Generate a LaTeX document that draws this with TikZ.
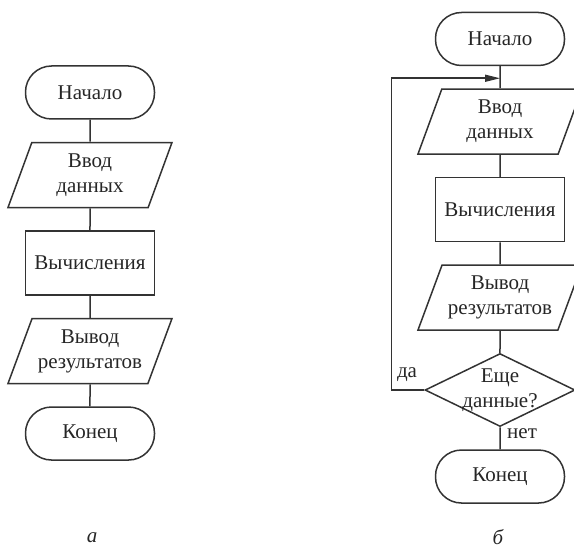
\documentclass[tikz,border=0pt]{standalone}
\usepackage{fontspec}
\setmainfont{Liberation Serif}
\usetikzlibrary{arrows.meta,positioning,shapes.geometric}

\begin{document}
\begin{tikzpicture}[x=1pt, y=-1pt, node distance=22pt, font=\fontsize{21}{25}\selectfont, >={Triangle[length=15pt,width=7pt]},
  every node/.style={align=center, text=black!85},
  line/.style={draw=black!80, line width=1.5pt},
  term/.style={line, rectangle, rounded corners=26pt, minimum width=129pt, minimum height=53pt},
  io/.style={line, trapezium, trapezium left angle=62, trapezium right angle=118, trapezium stretches body, minimum width=164pt, minimum height=65pt, inner sep=1pt},
  proc/.style={line, rectangle, minimum width=129pt, minimum height=64pt},
  cond/.style={line, diamond, minimum width=150pt, minimum height=73pt, inner sep=0pt},
  lbl/.style={inner sep=1pt}]
\useasboundingbox (0,0) rectangle (574,548);
% chart a
\node[term] (starta) at (90,92.5) {Начало};
\node[io, below=of starta] (ina) {Ввод\\данных};
\node[proc, below=of ina] (calca) {Вычисления};
\node[io, below=of calca] (outa) {Вывод\\результатов};
\node[term, below=of outa] (enda) {Конец};
\draw[line] (starta) -- (ina) -- (calca) -- (outa) -- (enda);
% chart b
\node[term] (startb) at (500,39) {Начало};
\node[io, below=of startb] (inb) {Ввод\\данных};
\node[proc, below=of inb] (calcb) {Вычисления};
\node[io, below=of calcb] (outb) {Вывод\\результатов};
\node[cond, below=of outb, label={[lbl]center:Еще\\данные?}] (more) {};
\node[term, below=of more] (endb) {Конец};
\draw[line] (startb) -- (inb) -- (calcb) -- (outb) -- (more) -- (endb);
\coordinate (join) at ([yshift=-12pt]startb.south);
\coordinate (back) at ([xshift=-33pt]more.west);
\draw[line, ->] (more.west) -- (back) |- (join);
\node[lbl, above left=7pt and 6pt of more.west] (yes) {да};
\node[lbl, below right=0pt and 6pt of more.south] (no) {нет};
% captions
\node[lbl, font=\fontsize{21}{25}\selectfont\itshape] (capa) at (92,538) {а};
\node[lbl, font=\fontsize{21}{25}\selectfont\itshape] (capb) at (498,537) {б};
\end{tikzpicture}
\end{document}
